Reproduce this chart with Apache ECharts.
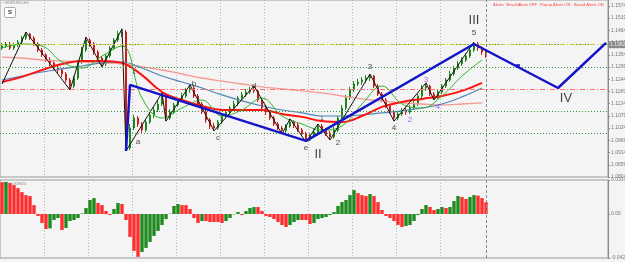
<!DOCTYPE html>
<html>
<head>
<meta charset="utf-8">
<script src="https://cdn.jsdelivr.net/npm/echarts@6/dist/echarts.min.js"></script>
<style>
  html, body { margin: 0; padding: 0; background: #f4f4f4; }
  #chart { width: 625px; height: 262px; }
</style>
</head>
<body>
<div id="chart"></div>
<script>
// EURUSD H4 - bars oldest first, the last bar is the current one
const firstOpen = 1.1385;
const closes = [
  1.1394, 1.1403, 1.1385, 1.1399, 1.1412, 1.1430, 1.1448, 1.1430, 1.1403, 1.1376,
  1.1354, 1.1331, 1.1318, 1.1295, 1.1286, 1.1268, 1.1241, 1.1214, 1.1250, 1.1322,
  1.1376, 1.1421, 1.1403, 1.1367, 1.1340, 1.1313, 1.1349, 1.1385, 1.1421, 1.1448,
  1.1457, 1.0935, 1.1025, 1.1070, 1.1043, 1.1016, 1.1052, 1.1084, 1.1106, 1.1133,
  1.1169, 1.1070, 1.1097, 1.1129, 1.1151, 1.1169, 1.1196, 1.1205, 1.1169, 1.1133,
  1.1097, 1.1061, 1.1034, 1.1025, 1.1052, 1.1079, 1.1097, 1.1115, 1.1133, 1.1160,
  1.1174, 1.1187, 1.1196, 1.1192, 1.1151, 1.1115, 1.1097, 1.1070, 1.1043, 1.1025,
  1.1012, 1.1034, 1.1052, 1.1039, 1.1016, 1.0998, 1.0971, 1.0989, 1.1007, 1.1034,
  1.1016, 1.0998, 1.0985, 1.1016, 1.1070, 1.1115, 1.1160, 1.1196, 1.1223, 1.1232,
  1.1241, 1.1250, 1.1259, 1.1214, 1.1178, 1.1151, 1.1124, 1.1097, 1.1070, 1.1088,
  1.1106, 1.1097, 1.1115, 1.1133, 1.1169, 1.1205, 1.1214, 1.1178, 1.1160, 1.1187,
  1.1214, 1.1241, 1.1268, 1.1295, 1.1313, 1.1331, 1.1349, 1.1376, 1.1403, 1.1385,
  1.1367, 1.1362
];
const highs = [
  1.1408, 1.1412, 1.1412, 1.1408, 1.1421, 1.1439, 1.1457, 1.1453, 1.1439, 1.1412,
  1.1385, 1.1362, 1.1344, 1.1327, 1.1309, 1.1295, 1.1277, 1.1250, 1.1259, 1.1331,
  1.1390, 1.1434, 1.1430, 1.1412, 1.1376, 1.1349, 1.1358, 1.1394, 1.1430, 1.1462,
  1.1471, 1.1466, 1.1043, 1.1084, 1.1079, 1.1052, 1.1066, 1.1097, 1.1120, 1.1151,
  1.1183, 1.1178, 1.1110, 1.1138, 1.1160, 1.1183, 1.1205, 1.1219, 1.1214, 1.1178,
  1.1142, 1.1106, 1.1070, 1.1048, 1.1061, 1.1088, 1.1110, 1.1124, 1.1147, 1.1169,
  1.1187, 1.1201, 1.1210, 1.1214, 1.1201, 1.1160, 1.1129, 1.1106, 1.1079, 1.1052,
  1.1034, 1.1043, 1.1066, 1.1061, 1.1048, 1.1025, 1.1007, 1.1003, 1.1021, 1.1043,
  1.1043, 1.1025, 1.1012, 1.1030, 1.1079, 1.1129, 1.1174, 1.1210, 1.1236, 1.1246,
  1.1254, 1.1263, 1.1268, 1.1263, 1.1223, 1.1187, 1.1160, 1.1133, 1.1106, 1.1097,
  1.1115, 1.1120, 1.1129, 1.1147, 1.1178, 1.1219, 1.1228, 1.1219, 1.1187, 1.1196,
  1.1223, 1.1250, 1.1282, 1.1304, 1.1327, 1.1344, 1.1362, 1.1385, 1.1412, 1.1412,
  1.1394, 1.1381
];
const lows = [
  1.1376, 1.1385, 1.1376, 1.1376, 1.1390, 1.1403, 1.1421, 1.1421, 1.1394, 1.1367,
  1.1344, 1.1322, 1.1304, 1.1286, 1.1272, 1.1254, 1.1228, 1.1196, 1.1205, 1.1241,
  1.1313, 1.1367, 1.1390, 1.1354, 1.1327, 1.1300, 1.1304, 1.1340, 1.1376, 1.1412,
  1.1434, 1.0922, 1.0926, 1.1016, 1.1030, 1.1003, 1.1007, 1.1043, 1.1070, 1.1097,
  1.1124, 1.1056, 1.1061, 1.1088, 1.1120, 1.1142, 1.1160, 1.1183, 1.1160, 1.1120,
  1.1088, 1.1048, 1.1021, 1.1012, 1.1016, 1.1043, 1.1070, 1.1084, 1.1106, 1.1124,
  1.1151, 1.1165, 1.1178, 1.1183, 1.1142, 1.1106, 1.1084, 1.1061, 1.1034, 1.1016,
  1.0998, 1.1003, 1.1025, 1.1025, 1.1007, 1.0989, 1.0962, 1.0967, 1.0980, 1.0998,
  1.1007, 1.0989, 1.0971, 1.0976, 1.1007, 1.1061, 1.1106, 1.1151, 1.1187, 1.1214,
  1.1219, 1.1228, 1.1236, 1.1205, 1.1169, 1.1142, 1.1115, 1.1088, 1.1056, 1.1061,
  1.1079, 1.1084, 1.1088, 1.1106, 1.1124, 1.1160, 1.1192, 1.1169, 1.1151, 1.1156,
  1.1178, 1.1205, 1.1232, 1.1259, 1.1286, 1.1304, 1.1322, 1.1340, 1.1367, 1.1372,
  1.1354, 1.1340
];

// moving averages, one reading every maStep bars
const maStep = 5;
const maSlow = [1.1344, 1.1340, 1.1331, 1.1327, 1.1322, 1.1318, 1.1313, 1.1300, 1.1286, 1.1268,
  1.1250, 1.1236, 1.1223, 1.1210, 1.1201, 1.1192, 1.1183, 1.1169, 1.1156, 1.1147,
  1.1138, 1.1133, 1.1129, 1.1133, 1.1138];
const maMid = [1.1241, 1.1259, 1.1277, 1.1291, 1.1304, 1.1318, 1.1322, 1.1295, 1.1259, 1.1232,
  1.1205, 1.1174, 1.1147, 1.1124, 1.1106, 1.1093, 1.1079, 1.1079, 1.1084, 1.1093,
  1.1102, 1.1115, 1.1133, 1.1165, 1.1205];
const maRed = [1.1232, 1.1255, 1.1286, 1.1313, 1.1327, 1.1327, 1.1318, 1.1263, 1.1187, 1.1151,
  1.1124, 1.1106, 1.1106, 1.1106, 1.1088, 1.1075, 1.1056, 1.1052, 1.1079, 1.1120,
  1.1142, 1.1156, 1.1169, 1.1192, 1.1228];
const maFast = [1.1385, 1.1403, 1.1394, 1.1322, 1.1295, 1.1349, 1.1394, 1.1160, 1.1070, 1.1115,
  1.1151, 1.1079, 1.1106, 1.1160, 1.1079, 1.1043, 1.1016, 1.1034, 1.1133, 1.1214,
  1.1133, 1.1115, 1.1169, 1.1259, 1.1331];

// zigzag swing points (bar index, price)
const zigzagBars = [0, 6, 17, 21, 25, 30, 31, 40, 41, 47, 53, 63, 70, 72, 76, 79, 82, 92, 98, 106, 108, 118];
const zigzagPrices = [1.1223, 1.1457, 1.1196, 1.1434, 1.1300, 1.1471, 1.0922, 1.1183, 1.1056, 1.1219,
  1.1012, 1.1214, 1.0998, 1.1066, 1.0962, 1.1043, 1.0971, 1.1268, 1.1056, 1.1228, 1.1151, 1.1412];

// wave count line, including the projection to IV and beyond
const waveBars = [31, 32, 76, 118, 139, 151];
const wavePrices = [1.0922, 1.1219, 1.0967, 1.1403, 1.1205, 1.1408];
const waveDot = [129, 1.1304];

// wave labels: [text, bar, price]
const minorLabels = [['a', 34, 1.0962], ['b', 48, 1.1223], ['c', 54, 1.0980], ['d', 63, 1.1217],
  ['e', 76, 1.0935], ['2', 84, 1.0958], ['3', 92, 1.1300], ['4', 98, 1.1025], ['5', 118, 1.1453]];
const smallLabels = [['1', 33, 1.1277], ['1', 80, 1.1070]];
const majorLabels = [['II', 79, 1.0904], ['III', 118, 1.1511], ['IV', 141, 1.1160]];
const magentaLabels = [['3', 106, 1.1241]];
const violetLabels = [['2', 102, 1.1061], ['4', 109, 1.1120]];

// horizontal levels
const greenLevels = [1.1439, 1.1282, 1.1115, 1.0962];
const redLevels = [1.1408, 1.1241];
const limeLevel = 1.1371;
const bidLevel = 1.1362;

// oscillator, one value per bar
const aoValues = [
  0.0310, 0.0312, 0.0301, 0.0281, 0.0252, 0.0213, 0.0184, 0.0175, 0.0087, -0.0019,
  -0.0087, -0.0146, -0.0140, -0.0058, -0.0039, -0.0155, -0.0136, -0.0068, -0.0058, -0.0039,
  0.0005, 0.0058, 0.0136, 0.0155, 0.0107, 0.0087, 0.0029, -0.0010, 0.0049, 0.0107,
  0.0097, -0.0058, -0.0223, -0.0359, -0.0417, -0.0369, -0.0330, -0.0272, -0.0213, -0.0165,
  -0.0107, -0.0049, 0.0003, 0.0078, 0.0097, 0.0087, 0.0087, 0.0049, -0.0039, -0.0087,
  -0.0068, -0.0068, -0.0078, -0.0078, -0.0078, -0.0087, -0.0068, -0.0039, -0.0003, 0.0019,
  -0.0010, 0.0029, 0.0058, 0.0068, 0.0068, 0.0029, -0.0019, -0.0029, -0.0049, -0.0078,
  -0.0107, -0.0126, -0.0107, -0.0078, -0.0058, -0.0058, -0.0058, -0.0097, -0.0087, -0.0049,
  -0.0039, -0.0029, -0.0010, 0.0019, 0.0078, 0.0116, 0.0136, 0.0184, 0.0233, 0.0204,
  0.0184, 0.0175, 0.0194, 0.0175, 0.0116, 0.0039, -0.0019, -0.0039, -0.0068, -0.0107,
  -0.0126, -0.0116, -0.0107, -0.0068, -0.0010, 0.0049, 0.0087, 0.0068, 0.0039, 0.0049,
  0.0068, 0.0058, 0.0068, 0.0126, 0.0175, 0.0165, 0.0146, 0.0165, 0.0184, 0.0180,
  0.0155, 0.0116
];
const aoMin = -0.0428;
const aoMax = 0.0331;

const barCount = 152;
const gridEvery = 11;
const lastBar = String(closes.length - 1);
const categories = Array.from({ length: barCount }, (_, i) => String(i));

const opens = [firstOpen].concat(closes.slice(0, -1));
const candles = closes.map((c, i) => [opens[i], c, lows[i], highs[i]]);
const toPairs = arr => arr.map((v, k) => [k * maStep, v]);
const pairs = (bars, prices) => bars.map((b, i) => [b, prices[i]]);
const aoBars = aoValues.map((v, i) => ({
  value: v,
  itemStyle: { color: i > 0 && v > aoValues[i - 1] ? '#1f8a1f' : '#ff2e2e' }
}));

const font = 'Liberation Sans, Arial, sans-serif';
const labelSeries = (items, color, size, weight) => ({
  type: 'scatter',
  xAxisIndex: 0,
  yAxisIndex: 0,
  symbolSize: 0,
  silent: true,
  z: 10,
  data: items.map(([t, b, p]) => ({ name: t, value: [b, p] })),
  label: {
    show: true,
    position: 'inside',
    formatter: '{b}',
    color,
    fontSize: size,
    fontWeight: weight || 'normal',
    fontFamily: font
  }
});
const maLine = (data, color, width) => ({
  type: 'line',
  xAxisIndex: 0,
  yAxisIndex: 0,
  data: toPairs(data),
  smooth: 0.4,
  showSymbol: false,
  silent: true,
  lineStyle: { color, width }
});
const separator = { xAxis: lastBar, lineStyle: { color: '#8a8a8a', type: [3, 2], width: 1 } };

const levelLines = [];
greenLevels.forEach(v => levelLines.push({ yAxis: v, lineStyle: { color: '#3d8f3d', type: [1, 2], width: 1 } }));
redLevels.forEach(v => levelLines.push({ yAxis: v, lineStyle: { color: '#ff6f6f', type: [5, 2, 1, 2], width: 1 } }));
levelLines.push({ yAxis: limeLevel, lineStyle: { color: '#35c035', type: [5, 2, 1, 2], width: 1 } });
levelLines.push({
  yAxis: bidLevel,
  lineStyle: { color: '#c9c93a', type: [5, 2, 1, 2], width: 1 },
  label: {
    show: true, position: 'end', distance: 1,
    formatter: bidLevel.toFixed(5),
    color: '#f4f4f4', backgroundColor: '#8a8a8a',
    fontSize: 5, fontFamily: font, padding: [1, 1]
  }
});
levelLines.push(separator);

const chart = echarts.init(document.getElementById('chart'));
chart.setOption({
  backgroundColor: '#f4f4f4',
  animation: false,
  grid: [
    { left: 0, top: 0, width: 608, height: 177, outerBoundsMode: 'none', show: true, borderColor: '#9a9a9a', borderWidth: 1 },
    { left: 0, top: 180, width: 608, height: 78, outerBoundsMode: 'none', show: true, borderColor: '#9a9a9a', borderWidth: 1 }
  ],
  xAxis: [0, 1].map(g => ({
    type: 'category',
    gridIndex: g,
    data: categories,
    boundaryGap: true,
    axisLine: { show: false },
    axisTick: { show: false },
    axisLabel: { show: false },
    splitLine: {
      show: true,
      interval: idx => idx > 0 && idx % gridEvery === 0 && idx < closes.length - 1,
      lineStyle: { color: '#b5b5b5', type: [1, 2] }
    }
  })),
  yAxis: [
    {
      type: 'value', gridIndex: 0, position: 'right',
      min: 1.08045, max: 1.1601, interval: 0.0055,
      axisLine: { show: true, lineStyle: { color: '#8a8a8a' } },
      axisTick: { show: true, length: 2, lineStyle: { color: '#8a8a8a' } },
      splitLine: { show: false },
      axisLabel: { fontSize: 5, color: '#777', margin: 3, fontFamily: font, showMaxLabel: false, formatter: v => v.toFixed(5) }
    },
    {
      type: 'value', gridIndex: 1, position: 'right',
      min: aoMin, max: aoMax,
      axisLine: { show: true, lineStyle: { color: '#8a8a8a' } },
      axisTick: { show: true, length: 2, customValues: [aoMin, 0, aoMax], lineStyle: { color: '#8a8a8a' } },
      splitLine: { show: false },
      axisLabel: {
        fontSize: 5, color: '#777', margin: 3, fontFamily: font,
        customValues: [aoMin, 0, aoMax],
        formatter: v => (v === 0 ? '0.00' : v.toFixed(5))
      }
    }
  ],
  series: [
    {
      type: 'candlestick',
      xAxisIndex: 0, yAxisIndex: 0,
      data: candles,
      barMaxWidth: 2.5,
      silent: true,
      itemStyle: {
        color: '#39b539', color0: '#ff3a3a',
        borderColor: '#1f861f', borderColor0: '#c81e1e', borderWidth: 1
      },
      markLine: { silent: true, symbol: 'none', label: { show: false }, data: levelLines }
    },
    maLine(maSlow, '#f39a92', 1.3),
    maLine(maMid, '#4f86b8', 1.2),
    maLine(maRed, '#ff1212', 2),
    maLine(maFast, '#2fb52f', 1),
    {
      type: 'line', xAxisIndex: 0, yAxisIndex: 0,
      data: pairs(zigzagBars, zigzagPrices),
      showSymbol: false, silent: true, z: 4,
      lineStyle: { color: '#111', width: 1 }
    },
    {
      type: 'line', xAxisIndex: 0, yAxisIndex: 0,
      data: pairs(waveBars, wavePrices),
      showSymbol: false, silent: true, z: 5,
      lineStyle: { color: '#1414c8', width: 2.5 }
    },
    {
      type: 'scatter', xAxisIndex: 0, yAxisIndex: 0,
      data: [waveDot], symbol: 'rect', symbolSize: 4, silent: true, z: 6,
      itemStyle: { color: '#1414c8' }
    },
    labelSeries(minorLabels, '#222', 8),
    labelSeries(smallLabels, '#222', 6),
    labelSeries(majorLabels, '#111', 13),
    labelSeries(magentaLabels, '#d030d0', 8),
    labelSeries(violetLabels, '#8a3cf0', 8),
    {
      type: 'bar',
      xAxisIndex: 1, yAxisIndex: 1,
      data: aoBars,
      barCategoryGap: '15%',
      silent: true,
      markLine: { silent: true, symbol: 'none', label: { show: false }, data: [separator] }
    }
  ],
  graphic: [
    { type: 'rect', left: 4, top: 7, shape: { width: 11, height: 10, r: 1 }, style: { fill: '#fff', stroke: '#aaa', lineWidth: 1 } },
    { type: 'text', left: 8, top: 9, style: { text: 'S', fill: '#333', font: 'bold 6px ' + font } },
    { type: 'text', left: 3, top: 1, style: { text: '▪ EURUSD,H4', fill: '#888', font: '4px ' + font } },
    { type: 'text', left: 493, top: 3, style: { text: 'Alerts:  Email Alerts OFF   Popup Alerts ON   Sound Alerts ON', fill: '#ff4040', font: '4px ' + font } },
    { type: 'text', left: 3, top: 182, style: { text: 'AO 0.009055', fill: '#888', font: '4px ' + font } }
  ]
});
</script>
</body>
</html>
